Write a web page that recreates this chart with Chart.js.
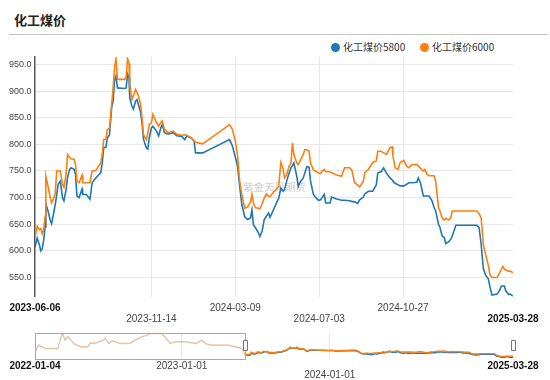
<!DOCTYPE html>
<html>
<head>
<meta charset="utf-8">
<script src="https://cdn.jsdelivr.net/npm/chart.js@4/dist/chart.umd.min.js"></script>
<style>
html,body{margin:0;padding:0;background:#fff;}
#wrap{position:relative;width:550px;height:380px;overflow:hidden;font-family:'Noto Sans CJK SC','Liberation Sans',sans-serif;}
#title{position:absolute;left:14px;top:11px;font-size:13px;font-weight:bold;color:#222;line-height:18px;}
#rule{position:absolute;left:9px;top:34px;width:539px;height:1px;background:#c4c4c4;}
.lg{position:absolute;top:40px;height:14px;font-size:10px;line-height:14px;color:#333;white-space:nowrap;}
.lg i{display:inline-block;width:9px;height:9px;border-radius:50%;vertical-align:middle;margin-right:3px;position:relative;top:-1px;}
#main{position:absolute;left:0;top:0;}
#zoom{position:absolute;left:0;top:320px;}
</style>
</head>
<body>
<div id="wrap">
  <div id="title">化工煤价</div>
  <div id="rule"></div>
  <div class="lg" id="lg0" style="left:331px"><i></i><span></span></div>
  <div class="lg" id="lg1" style="left:420px"><i></i><span></span></div>
  <canvas id="main" width="550" height="330"></canvas>
  <canvas id="zoom" width="550" height="60"></canvas>
</div>
<script>
// ---------- data ----------
const seriesNames = ['化工煤价5800', '化工煤价6000'];
const seriesColors = ['#1f77b4', '#ff7f0e'];
const seriesFaded = ['rgba(31,119,180,0.22)', 'rgba(255,127,14,0.35)'];

const dates = [
 '2023-06-06','2023-06-09','2023-06-12','2023-06-14','2023-06-16','2023-06-18','2023-06-20','2023-06-21','2023-06-24','2023-06-27',
 '2023-06-29','2023-07-01','2023-07-04','2023-07-06','2023-07-08','2023-07-11','2023-07-14','2023-07-16','2023-07-19','2023-07-21',
 '2023-07-24','2023-07-26','2023-07-30','2023-08-01','2023-08-03','2023-08-06','2023-08-10','2023-08-11','2023-08-16','2023-08-21',
 '2023-08-24','2023-08-29','2023-09-05','2023-09-07','2023-09-09','2023-09-12','2023-09-14','2023-09-17','2023-09-20','2023-09-22',
 '2023-09-24','2023-09-26','2023-09-28','2023-10-08','2023-10-10','2023-10-12','2023-10-14','2023-10-15','2023-10-18','2023-10-20',
 '2023-10-23','2023-10-25','2023-10-27','2023-10-30','2023-11-01','2023-11-03','2023-11-07','2023-11-09','2023-11-11','2023-11-14',
 '2023-11-16','2023-11-21','2023-11-24','2023-11-27','2023-11-29','2023-12-02','2023-12-07','2023-12-14','2023-12-19','2023-12-26',
 '2023-12-30','2024-01-02','2024-01-09','2024-01-12','2024-01-14','2024-01-24','2024-03-01','2024-03-05','2024-03-09','2024-03-12',
 '2024-03-15','2024-03-18','2024-03-22','2024-03-26','2024-03-30','2024-04-01','2024-04-03','2024-04-06','2024-04-10','2024-04-12',
 '2024-04-15','2024-04-18','2024-04-21','2024-04-24','2024-04-26','2024-05-02','2024-05-08','2024-05-11','2024-05-14','2024-05-16',
 '2024-05-19','2024-05-22','2024-05-25','2024-05-27','2024-05-29','2024-06-02','2024-06-04','2024-06-07','2024-06-11','2024-06-13',
 '2024-06-16','2024-06-19','2024-06-21','2024-06-25','2024-06-29','2024-07-02','2024-07-05','2024-07-07','2024-07-10','2024-07-12',
 '2024-07-18','2024-07-20','2024-07-26','2024-08-03','2024-08-07','2024-08-14','2024-08-17','2024-08-21','2024-08-25','2024-08-28',
 '2024-09-02','2024-09-04','2024-09-09','2024-09-15','2024-09-20','2024-09-22','2024-09-27','2024-09-30','2024-10-04','2024-10-09',
 '2024-10-12','2024-10-13','2024-10-16','2024-10-20','2024-10-23','2024-10-28','2024-11-01','2024-11-04','2024-11-08','2024-11-15',
 '2024-11-17','2024-11-20','2024-11-24','2024-11-26','2024-11-29','2024-12-02','2024-12-06','2024-12-09','2024-12-11','2024-12-15',
 '2024-12-17','2024-12-20','2024-12-23','2024-12-25','2024-12-29','2025-01-01','2025-01-03','2025-01-08','2025-02-06','2025-02-09',
 '2025-02-12','2025-02-15','2025-02-18','2025-02-22','2025-02-24','2025-02-27','2025-03-06','2025-03-09','2025-03-12','2025-03-14',
 '2025-03-16','2025-03-18','2025-03-22','2025-03-24','2025-03-28'
];
const coal5800 = [
 607,624,612,600,604,620,645,688,675,658,
 651,665,687,705,725,731,700,694,715,738,
 753,756,753,744,703,700,716,706,706,697,
 728,737,747,765,794,794,812,818,869,881,
 920,928,906,905,906,932,925,887,872,866,
 881,884,875,860,840,810,793,791,812,831,
 834,825,816,831,837,822,819,822,816,815,
 809,816,811,806,784,784,809,797,776,760,
 722,687,664,659,662,677,649,643,634,627,
 637,659,665,671,663,681,699,718,712,715,
 731,745,756,760,765,740,721,730,737,746,
 758,757,731,706,699,695,696,700,706,690,
 690,701,698,695,695,694,693,692,689,696,
 701,707,712,712,724,746,749,756,746,737,
 733,731,727,724,722,722,725,728,728,729,
 737,728,703,703,703,703,694,681,675,650,
 644,628,625,614,617,622,628,648,648,644,
 612,567,555,547,533,517,519,525,534,534,
 534,525,518,519,515
];
const coal6000 = [
 626,646,640,642,632,640,665,740,722,700,
 690,696,708,750,750,750,725,719,744,781,
 775,773,772,762,731,728,742,728,728,728,
 750,751,765,781,809,809,828,830,875,906,
 944,961,922,922,925,961,952,912,884,891,
 903,897,891,875,850,818,809,820,837,841,
 856,841,834,841,844,828,822,825,819,817,
 818,817,811,807,804,801,837,828,806,781,
 731,706,680,682,692,706,690,681,680,679,
 688,699,707,702,702,712,721,766,755,737,
 743,758,765,803,781,765,762,770,781,790,
 790,787,765,752,749,746,745,750,753,749,
 748,747,743,740,756,756,752,728,724,720,
 731,747,753,766,769,787,787,784,781,794,
 795,778,756,753,766,770,759,756,762,762,
 760,755,750,753,744,741,741,741,731,681,
 675,662,658,661,658,662,675,675,675,670,
 662,612,594,572,556,550,550,558,566,571,
 566,564,562,562,559
];

// longer history, shown only in the range-slider preview
const histDates = [
 '2022-01-04','2022-01-13','2022-01-30','2022-03-01','2022-03-13','2022-03-19','2022-03-27','2022-04-09','2022-04-27','2022-05-14',
 '2022-05-21','2022-05-31','2022-06-22','2022-06-26','2022-07-05','2022-07-14','2022-07-31','2022-08-26','2022-09-08','2022-09-25',
 '2022-10-08','2022-10-17','2022-11-12','2022-11-20','2022-12-03','2022-12-16','2023-01-11','2023-02-06','2023-02-19','2023-02-28',
 '2023-03-13','2023-04-25','2023-05-30'
];
const hist5800 = [
 737,1036,886,886,1587,1259,1408,1110,961,961,
 1140,1110,1259,1333,1110,1229,1110,1110,1259,1408,
 1483,1557,1557,1408,1110,1185,1185,1110,1259,1110,
 1036,1036,886
];
const hist6000 = [
 757,1060,910,910,1600,1280,1430,1135,985,985,
 1160,1135,1280,1355,1135,1250,1135,1135,1280,1430,
 1505,1575,1575,1430,1135,1205,1205,1135,1280,1135,
 1060,1060,910
];

const xTickLabels = ['2023-06-06','2023-11-14','2024-03-09','2024-07-03','2024-10-27','2025-03-28'];
const yTickValues = [550,600,650,700,750,800,850,900,950];
const zoomTickLabels = ['2022-01-04','2023-01-01','2024-01-01','2025-03-28'];
const watermarkText = '紫金天风期货';

// ---------- helpers ----------
const dayOf = s => Date.UTC(+s.slice(0,4), +s.slice(5,7)-1, +s.slice(8,10)) / 86400000;
const pts = (ds, vs) => ds.map((d, i) => ({x: dayOf(d), y: vs[i]}));

// legend (HTML text)
[0,1].forEach(i => {
  const el = document.getElementById('lg' + i);
  el.querySelector('i').style.background = seriesColors[i];
  el.querySelector('span').textContent = seriesNames[i];
});

Chart.defaults.font.family = "'Liberation Sans', Arial, sans-serif";

const watermark = {
  id: 'wm',
  beforeDatasetsDraw(chart) {
    const ctx = chart.ctx;
    ctx.save();
    ctx.font = "10.5px 'Noto Sans CJK SC'";
    ctx.fillStyle = 'rgba(170,170,170,0.6)';
    ctx.textBaseline = 'middle';
    ctx.textAlign = 'left';
    ctx.fillText(watermarkText, 243, 187);
    ctx.restore();
  }
};

const lastX = xTickLabels.length - 1;
new Chart(document.getElementById('main'), {
  type: 'line',
  data: {
    datasets: [
      {label: seriesNames[0], data: pts(dates, coal5800), borderColor: seriesColors[0], borderWidth: 1.6, pointRadius: 0, tension: 0, order: 1},
      {label: seriesNames[1], data: pts(dates, coal6000), borderColor: seriesColors[1], borderWidth: 1.6, pointRadius: 0, tension: 0, order: 0}
    ]
  },
  options: {
    responsive: false, animation: false, devicePixelRatio: 1,
    layout: {padding: {top: 57, right: 37, left: 0, bottom: 0}},
    plugins: {legend: {display: false}, tooltip: {enabled: false}},
    scales: {
      x: {
        type: 'linear',
        min: dayOf(dates[0]), max: dayOf(dates[dates.length - 1]),
        afterBuildTicks: s => { s.ticks = xTickLabels.map(l => ({value: dayOf(l)})); },
        afterFit: s => { s.height = 33.3; },
        grid: {drawTicks: false, lineWidth: 1,
          color: c => (c.index === 0 || c.index === lastX) ? 'rgba(0,0,0,0)' : '#e6e6e6'},
        border: {display: false},
        ticks: {
          autoSkip: false, maxRotation: 0, padding: 5.6,
          callback: (v, i) => (i % 2 === 1) ? ['', xTickLabels[i]] : xTickLabels[i],
          font: c => ({size: 10, lineHeight: 1.13, weight: (c.index === 0 || c.index === lastX) ? 'bold' : 'normal'}),
          color: c => (c.index === 0 || c.index === lastX) ? '#111' : '#444'
        }
      },
      y: {
        min: 514, max: 964,
        afterBuildTicks: s => { s.ticks = yTickValues.map(v => ({value: v})); },
        afterFit: s => { s.width = 35; },
        grid: {drawTicks: false, color: '#e6e6e6', lineWidth: 1},
        border: {display: true, color: '#555', width: 1.5},
        ticks: {padding: 3.5, callback: v => Number(v).toFixed(1), font: {size: 9}, color: '#444'}
      }
    }
  },
  plugins: [watermark]
});

// ---------- range slider preview ----------
const zoomBox = {
  id: 'zoomBox',
  afterDatasetsDraw(chart) {
    const {ctx, chartArea: a, scales: {x}} = chart;
    const x0 = x.getPixelForValue(dayOf(histDates[0]));
    const x1 = x.getPixelForValue(dayOf(dates[0]));
    const x2 = x.getPixelForValue(dayOf(dates[dates.length - 1]));
    ctx.save();
    ctx.strokeStyle = '#a8a8a8';
    ctx.lineWidth = 1;
    ctx.strokeRect(Math.round(x0) + 0.5, Math.round(a.top) + 0.5, Math.round(x1 - x0), Math.round(a.bottom - a.top));
    const mid = (a.top + a.bottom) / 2;
    [x1, x2].forEach(px => {
      ctx.fillStyle = '#fff';
      ctx.strokeStyle = '#777';
      ctx.beginPath();
      ctx.rect(Math.round(px - 2) + 0.5, Math.round(mid - 5.5) + 0.5, 4, 10);
      ctx.fill();
      ctx.stroke();
    });
    ctx.restore();
  }
};

const lastZ = zoomTickLabels.length - 1;
const histB = pts(histDates, hist5800).concat([{x: dayOf(dates[0]), y: coal5800[0]}]);
const histO = pts(histDates, hist6000).concat([{x: dayOf(dates[0]), y: coal6000[0]}]);
new Chart(document.getElementById('zoom'), {
  type: 'line',
  data: {
    datasets: [
      {data: histB, borderColor: seriesFaded[0], borderWidth: 1.2, pointRadius: 0, tension: 0, order: 3},
      {data: histO, borderColor: seriesFaded[1], borderWidth: 1.2, pointRadius: 0, tension: 0, order: 2},
      {data: pts(dates, coal5800), borderColor: seriesColors[0], borderWidth: 1.4, pointRadius: 0, tension: 0, order: 1},
      {data: pts(dates, coal6000), borderColor: seriesColors[1], borderWidth: 1.4, pointRadius: 0, tension: 0, order: 0}
    ]
  },
  options: {
    responsive: false, animation: false, devicePixelRatio: 1,
    layout: {padding: {top: 12.6, right: 37, left: 35, bottom: 0}},
    plugins: {legend: {display: false}, tooltip: {enabled: false}},
    scales: {
      x: {
        type: 'linear',
        min: dayOf(histDates[0]), max: dayOf(dates[dates.length - 1]),
        afterBuildTicks: s => { s.ticks = zoomTickLabels.map(l => ({value: dayOf(l)})); },
        afterFit: s => { s.height = 21; },
        grid: {drawTicks: false, lineWidth: 1,
          color: c => (c.index === 0 || c.index === lastZ) ? 'rgba(0,0,0,0)' : '#e6e6e6'},
        border: {display: false},
        ticks: {
          autoSkip: false, maxRotation: 0, padding: 2.2,
          callback: (v, i) => (i === 2) ? ['', zoomTickLabels[i]] : zoomTickLabels[i],
          font: c => ({size: 10, lineHeight: 0.95, weight: (c.index === 0 || c.index === lastZ) ? 'bold' : 'normal'}),
          color: c => (c.index === 0 || c.index === lastZ) ? '#111' : '#444'
        }
      },
      y: {display: false, min: 440, max: 1600}
    }
  },
  plugins: [zoomBox]
});
</script>
</body>
</html>
